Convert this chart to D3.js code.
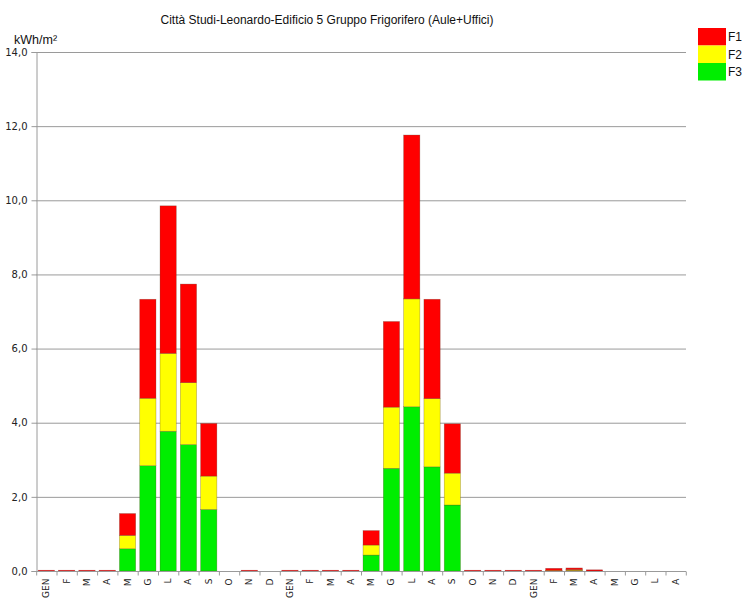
<!DOCTYPE html>
<html><head><meta charset="utf-8">
<script src="https://cdn.jsdelivr.net/npm/d3@7"></script>
<style>body{margin:0;background:#fff}svg{display:block}</style>
</head><body>
<script>
const months = ["GEN","F","M","A","M","G","L","A","S","O","N","D",
                "GEN","F","M","A","M","G","L","A","S","O","N","D",
                "GEN","F","M","A","M","G","L","A"];
const F3 = [0,0,0,0,0.60,2.84,3.77,3.41,1.66,0,0,0,
            0,0,0,0,0.43,2.77,4.43,2.81,1.78,0,0,0,
            0,0.01,0.02,0,0,0,0,0];
const F2 = [0,0,0,0,0.36,1.82,2.10,1.67,0.90,0,0,0,
            0,0,0,0,0.27,1.65,2.91,1.84,0.86,0,0,0,
            0,0.01,0.02,0,0,0,0,0];
const F1 = [0.02,0.02,0.02,0.02,0.59,2.67,3.98,2.66,1.42,0,0.02,0,
            0.02,0.02,0.02,0.02,0.39,2.31,4.42,2.68,1.33,0.02,0.02,0.02,
            0.02,0.05,0.04,0.03,0,0,0,0];
const seriesNames = ["F3","F2","F1"];
const colors = {F1:"#ff0000", F2:"#ffff00", F3:"#00ee00"};
const yTicks = [0,2,4,6,8,10,12,14];

const W=742,H=599;
const svg=d3.select("body").append("svg").attr("width",W).attr("height",H);

const x=d3.scaleBand().domain(d3.range(months.length)).range([36.2,685.8]).paddingInner(0.2).paddingOuter(0.1);
const y=d3.scaleLinear().domain([0,14]).range([571,52]);

// gridlines
svg.append("g").selectAll("line").data(yTicks.filter(d=>d>0)).join("line")
  .attr("x1",36).attr("x2",686).attr("y1",d=>y(d)+0.5).attr("y2",d=>y(d)+0.5)
  .attr("stroke","#9a9a9a").attr("stroke-width",1);

// y axis
const ya=svg.append("g").attr("transform","translate(36.5,0)")
  .call(d3.axisLeft(y).tickValues(yTicks).tickSize(5).tickFormat(d=>d3.format(".1f")(d).replace(".",",")));
ya.select(".domain").attr("stroke","#9a9a9a");
ya.selectAll(".tick line").attr("stroke","#9a9a9a");
ya.selectAll("text").attr("font-family","DejaVu Sans, Verdana, sans-serif").attr("font-size",10).attr("fill","#222").attr("dx",-1);

// stacked bars
const data=months.map((mo,i)=>({i,F3:F3[i],F2:F2[i],F1:F1[i]}));
const stack=d3.stack().keys(seriesNames)(data);
svg.append("g").selectAll("g").data(stack).join("g")
  .attr("fill",d=>colors[d.key])
  .selectAll("rect").data(d=>d.filter(p=>p[1]-p[0]>0)).join("rect")
  .attr("x",d=>x(d.data.i)).attr("width",x.bandwidth())
  .attr("y",d=>y(d[1])).attr("height",d=>Math.max(1,y(d[0])-y(d[1])))
  .attr("stroke",d=>(y(d[0])-y(d[1]))>2?"rgba(90,60,40,0.45)":"rgba(150,40,40,0.7)").attr("stroke-width",0.6);

// x axis
const xa=svg.append("g").attr("transform","translate(0,571.5)");
xa.append("line").attr("x1",36).attr("x2",686).attr("stroke","#9a9a9a");
const step=x.step();
xa.selectAll("line.t").data(d3.range(months.length+1)).join("line").attr("class","t")
  .attr("x1",i=>36.2+i*step+0.5).attr("x2",i=>36.2+i*step+0.5).attr("y1",0).attr("y2",4).attr("stroke","#9a9a9a");
xa.selectAll("text").data(months).join("text")
  .attr("transform",(d,i)=>`translate(${x(i)+x.bandwidth()/2+3},7) rotate(-90)`)
  .attr("text-anchor","end").attr("font-family","DejaVu Sans, Verdana, sans-serif").attr("font-size",9).attr("fill","#222")
  .text(d=>d);

// title
svg.append("text").attr("x",327).attr("y",24).attr("text-anchor","middle")
  .attr("font-family","Liberation Sans Narrow, Arial Narrow, sans-serif").attr("font-size",12).attr("fill","#111")
  .text("Città Studi-Leonardo-Edificio 5  Gruppo Frigorifero (Aule+Uffici)");
// unit label
svg.append("text").attr("x",14).attr("y",44)
  .attr("font-family","Liberation Sans Narrow, Arial Narrow, sans-serif").attr("font-size",12.5).attr("fill","#111")
  .text("kWh/m²");

// legend
const leg=["F1","F2","F3"];
const lg=svg.append("g");
lg.selectAll("rect").data(leg).join("rect")
  .attr("x",698).attr("y",(d,i)=>28+i*17.5).attr("width",28).attr("height",17.5).attr("fill",d=>colors[d]);
lg.selectAll("text").data(leg).join("text")
  .attr("x",728).attr("y",(d,i)=>28+i*17.5+13).attr("font-family","Liberation Sans Narrow, Arial Narrow, sans-serif")
  .attr("font-size",12).attr("fill","#111").text(d=>d);
</script>
</body></html>
